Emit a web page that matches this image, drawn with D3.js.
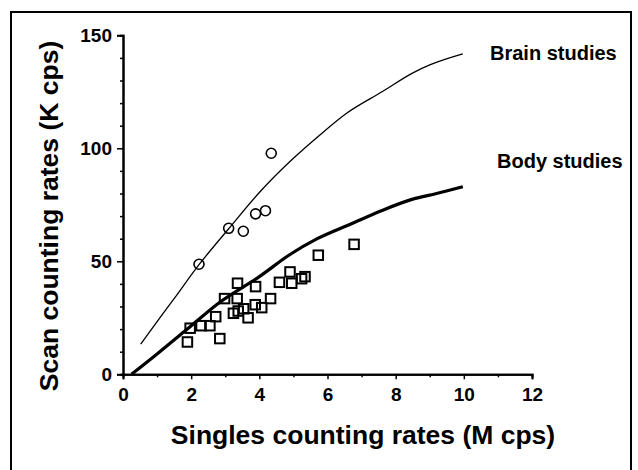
<!DOCTYPE html>
<html>
<head>
<meta charset="utf-8">
<script src="https://cdn.jsdelivr.net/npm/d3@7"></script>
<style>
  html, body { margin: 0; padding: 0; background: #fff; }
  svg { display: block; }
  text { font-family: "Liberation Sans", Arial, sans-serif; font-weight: bold; fill: #000; }
</style>
</head>
<body>
<svg id="chart" width="638" height="470"></svg>
<script>
// ---- data ----
const xTicks = [0, 2, 4, 6, 8, 10, 12];
const yTicks = [0, 50, 100, 150];

const brainX = [2.23, 3.10, 3.53, 3.89, 4.18, 4.35];
const brainY = [48.7, 64.6, 63.3, 71.0, 72.4, 97.8];

const bodyX = [1.89, 1.97, 2.29, 2.55, 2.72, 2.84, 2.98, 3.24, 3.35, 3.36, 3.38, 3.54, 3.67, 3.88, 3.89, 4.07, 4.33, 4.59, 4.90, 4.95, 5.24, 5.34, 5.73, 6.78];
const bodyY = [14.3, 20.4, 21.5, 21.5, 25.5, 15.8, 33.5, 27.0, 33.5, 40.3, 28.0, 29.0, 25.0, 30.8, 38.8, 29.5, 33.5, 40.7, 45.3, 40.3, 42.3, 43.2, 52.7, 57.5];

const brainCurveX = [0.52, 1.0, 1.5, 2.23, 3.10, 4.02, 5.0, 5.83, 6.56, 7.6, 8.52, 9.0, 9.97];
const brainCurveY = [13.4, 23.3, 33.5, 48.5, 64.4, 80.8, 95.6, 106.6, 115.5, 125.0, 133.5, 136.9, 141.8];

const bodyCurveX = [0.25, 1.0, 1.87, 2.85, 4.0, 4.9, 5.7, 6.7, 7.6, 8.5, 9.2, 9.97];
const bodyCurveY = [0.0, 9.0, 19.8, 32.0, 43.2, 53.0, 60.0, 66.6, 72.5, 77.5, 80.0, 83.0];

const seriesLabels = ["Brain studies", "Body studies"];
const xTitle = "Singles counting rates (M cps)";
const yTitle = "Scan counting rates (K cps)";

// ---- chart ----
const svg = d3.select("#chart");
const x = d3.scaleLinear().domain([0, 12]).range([123, 532]);
const y = d3.scaleLinear().domain([0, 150]).range([374.3, 35.3]);

// frame
svg.append("path")
  .attr("d", "M11,472 L11,12 L631,12 L631,472")
  .attr("fill", "none").attr("stroke", "#000").attr("stroke-width", 2);

// axes
const xAxis = d3.axisBottom(x).tickValues(xTicks).tickSize(5).tickPadding(8).tickFormat(d3.format("d"));
const xMinor = d3.axisBottom(x).tickValues([1, 3, 5, 7, 9, 11]).tickSize(3).tickFormat("");
const yAxis = d3.axisLeft(y).tickValues(yTicks).tickSize(6).tickPadding(5).tickFormat(d3.format("d"));
const yMinor = d3.axisLeft(y).tickValues(d3.range(10, 150, 10).filter(v => v % 50 !== 0)).tickSize(3).tickFormat("");

function styleAxis(g) {
  g.select(".domain").attr("stroke", "#000").attr("stroke-width", 2);
  g.selectAll(".tick line").attr("stroke", "#000").attr("stroke-width", 1.5);
  g.selectAll(".tick text").style("font-size", "19px").style("font-weight", "bold")
    .style("font-family", "'Liberation Sans', Arial, sans-serif").attr("fill", "#000");
}

svg.append("g").attr("transform", `translate(0,${y(0)})`).call(xMinor).call(styleAxis);
svg.append("g").attr("transform", `translate(0,${y(0)})`).call(xAxis).call(styleAxis);
svg.append("g").attr("transform", `translate(${x(0)},0)`).call(yMinor).call(styleAxis);
svg.append("g").attr("transform", `translate(${x(0)},0)`).call(yAxis).call(styleAxis);

// curves
const line = d3.line().x(d => x(d[0])).y(d => y(d[1])).curve(d3.curveMonotoneX);
svg.append("path").datum(d3.zip(brainCurveX, brainCurveY))
  .attr("d", line).attr("fill", "none").attr("stroke", "#000").attr("stroke-width", 1.3);
svg.append("path").datum(d3.zip(bodyCurveX, bodyCurveY))
  .attr("d", line).attr("fill", "none").attr("stroke", "#000").attr("stroke-width", 3.2);

// markers
svg.append("g").selectAll("circle").data(d3.zip(brainX, brainY)).join("circle")
  .attr("cx", d => x(d[0])).attr("cy", d => y(d[1])).attr("r", 5)
  .attr("fill", "none").attr("stroke", "#000").attr("stroke-width", 1.6);

const s = 9.5;
svg.append("g").selectAll("rect").data(d3.zip(bodyX, bodyY)).join("rect")
  .attr("x", d => x(d[0]) - s / 2).attr("y", d => y(d[1]) - s / 2)
  .attr("width", s).attr("height", s)
  .attr("fill", "none").attr("stroke", "#000").attr("stroke-width", 2);

// series labels
svg.append("text").attr("x", 490).attr("y", 60).style("font-size", "20px").text(seriesLabels[0]);
svg.append("text").attr("x", 497).attr("y", 168).style("font-size", "20px").text(seriesLabels[1]);

// titles
svg.append("text").attr("x", 363).attr("y", 444).attr("text-anchor", "middle")
  .style("font-size", "26.5px").text(xTitle);
svg.append("text").attr("transform", `translate(58,216) rotate(-90)`).attr("text-anchor", "middle")
  .style("font-size", "26.5px").text(yTitle);
</script>
</body>
</html>
